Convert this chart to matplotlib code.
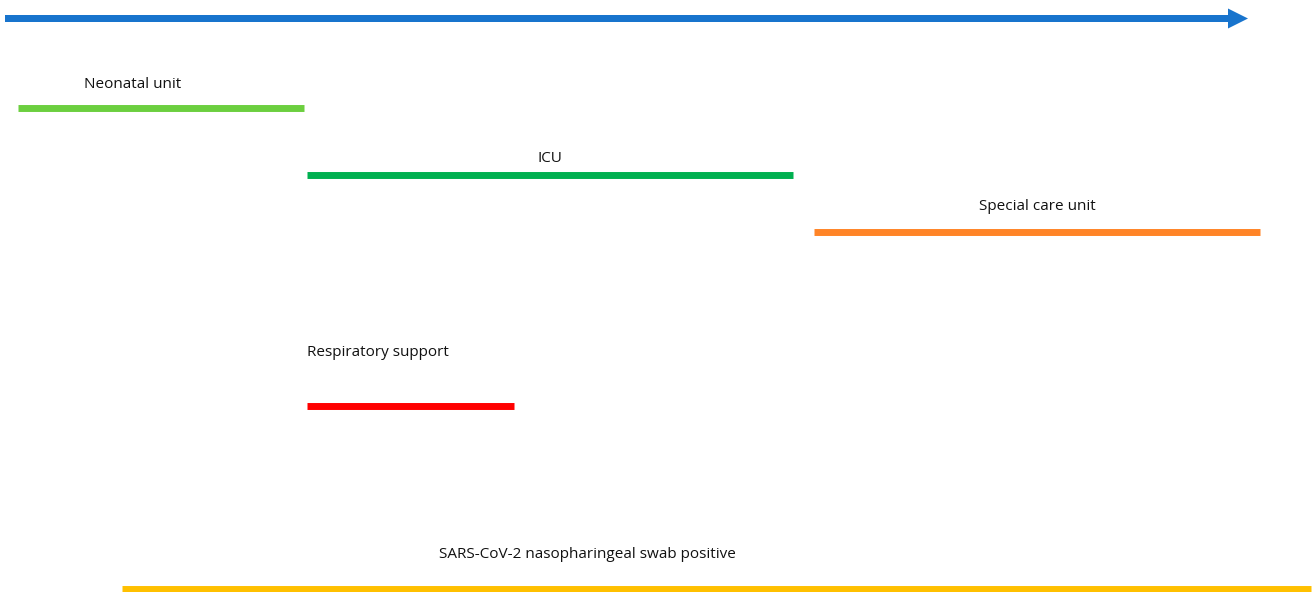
import matplotlib
matplotlib.use("Agg")
import matplotlib.pyplot as plt

# Timeline phases (positions along the timeline axis, levels from top)
labels = ["Neonatal unit", "ICU", "Special care unit", "Respiratory support",
          "SARS-CoV-2 nasopharingeal swab positive"]
starts = [18, 307, 814, 307, 122]
ends = [304, 793, 1260, 514, 1311]
levels = [107.5, 174.5, 231.5, 405.5, 588.5]
label_x = [133, 550, 1037, 307, 587]
label_y = [84, 158, 206, 352, 555]
label_ha = ["center", "center", "center", "left", "center"]
colors = ["#6CCF3F", "#00B050", "#FF8427", "#FF0000", "#FFC000"]

arrow_start, arrow_end, arrow_level = 5, 1248, 18.5

plt.rcParams['font.family'] = ['Open Sans', 'DejaVu Sans']

fig = plt.figure(figsize=(13.14, 5.92), dpi=100)
ax = fig.add_axes([0, 0, 1, 1])
ax.set_xlim(0, 1314)
ax.set_ylim(592, 0)
ax.axis('off')

ax.arrow(arrow_start, arrow_level, arrow_end - arrow_start, 0, width=7,
         head_width=20, head_length=20, length_includes_head=True,
         color="#1874CD", linewidth=0)

for lab, s, e, lv, lx, ly, ha, c in zip(labels, starts, ends, levels,
                                         label_x, label_y, label_ha, colors):
    ax.plot([s, e], [lv, lv], color=c, linewidth=5.0, solid_capstyle='butt')
    ax.text(lx, ly, lab, ha=ha, va='center', fontsize=11, color="#111111")

fig.savefig("out.png", dpi=100)
